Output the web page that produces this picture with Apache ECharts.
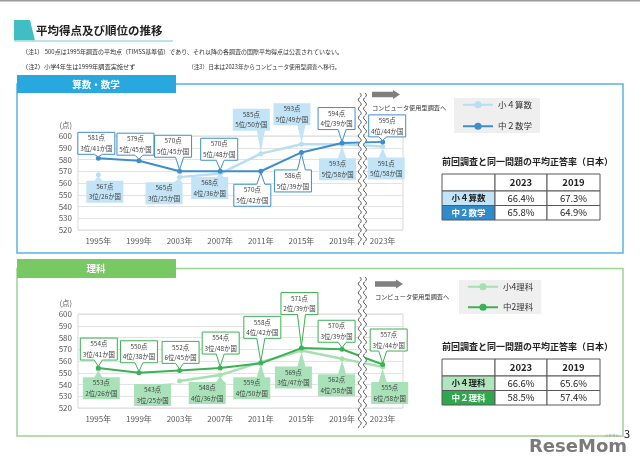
<!DOCTYPE html>
<html><head><meta charset="utf-8">
<script src="https://cdn.jsdelivr.net/npm/echarts@6/dist/echarts.min.js"></script>
<style>html,body{margin:0;padding:0;background:#fff}#c{width:640px;height:472px}</style>
</head><body><div id="c"></div>
<script>
// ---------- DATA ----------
const categories = ['1995年','1999年','2003年','2007年','2011年','2015年','2019年','2023年'];
const yMin = 520, yMax = 600, yStep = 10;

const mathG4Name = '小４算数';
const mathG8Name = '中２数学';
const mathG4 = [567, null, 565, 568, 585, 593, 593, 591];
const mathG4Rank = ['3位/26か国', null, '3位/25か国', '4位/36か国', '5位/50か国', '5位/49か国', '5位/58か国', '5位/58か国'];
const mathG8 = [581, 579, 570, 570, 570, 586, 594, 595];
const mathG8Rank = ['3位/41か国', '5位/45か国', '5位/45か国', '5位/48か国', '5位/42か国', '5位/39か国', '4位/39か国', '4位/44か国'];

const sciG4Name = '小4理科';
const sciG8Name = '中2理科';
const sciG4 = [553, null, 543, 548, 559, 569, 562, 555];
const sciG4Rank = ['2位/26か国', null, '3位/25か国', '4位/36か国', '4位/50か国', '3位/47か国', '4位/58か国', '6位/58か国'];
const sciG8 = [554, 550, 552, 554, 558, 571, 570, 557];
const sciG8Rank = ['3位/41か国', '4位/38か国', '6位/45か国', '3位/48か国', '4位/42か国', '2位/39か国', '3位/39か国', '3位/44か国'];

const rateTitle = '前回調査と同一問題の平均正答率（日本）';
const rateYears = ['2023', '2019'];
const mathRateRows = ['小４算数', '中２数学'];
const mathRate2023 = ['66.4%', '65.8%'];
const mathRate2019 = ['67.3%', '64.9%'];
const sciRateRows = ['小４理科', '中２理科'];
const sciRate2023 = ['66.6%', '58.5%'];
const sciRate2019 = ['65.6%', '57.4%'];

// ---------- LAYOUT (positions only) ----------
const FONT = '"Noto Sans CJK JP","Noto Sans",sans-serif';
const GL = 78, GR = 403, GH = 94, G1T = 136, G2T = 314;
// callout box centre offsets from the point (px)
const mathG8Off = [[-2,-15],[-3.5,-16.5],[-6.5,-25],[-1,-22],[-8.5,24],[-8.5,28.5],[-5.5,-24.5],[4.5,-16]];
const mathG4Off = [[6.5,17],null,[-15.5,16],[-10.5,14.5],[-9.5,-34],[-9.5,-30],[-4.5,25],[3.5,22]];
const sciG8Off  = [[0.5,-19],[0,-21],[1,-18],[0.5,-25],[1.5,-36],[-2,-44.5],[-5.5,-18],[6,-24.5]];
const sciG4Off  = [[3,19],null,[-27,14],[-13,18],[-9,26],[-8,27],[-5.5,26.5],[7,26]];

const C = {
  mathDark:'#3f8ecb', mathLight:'#b8def2', mathBox:'#c2e4f6',
  sciDark:'#3cb054', sciLight:'#a6dfb2', sciBox:'#a9e2b9'
};

function callout(ranks, offsets, st) {
  return function (params, api) {
    const i = api.value(0), v = api.value(1);
    const p = api.coord([i, v]);
    const off = offsets[i];
    const w = 37, h = 22;
    const cx = p[0] + off[0], cy = p[1] + off[1];
    const L = cx - w / 2, R = cx + w / 2, T = cy - h / 2, B = cy + h / 2;
    const bx = Math.max(L + 5, Math.min(R - 5, p[0]));
    let pts;
    if (off[1] < 0) pts = [[L,T],[R,T],[R,B],[bx+4,B],[p[0],p[1]-1.5],[bx-4,B],[L,B]];
    else pts = [[L,T],[bx-4,T],[p[0],p[1]+1.5],[bx+4,T],[R,T],[R,B],[L,B]];
    return { type:'group', children:[
      { type:'polygon', shape:{points:pts}, style:{fill:st.fill, stroke:st.stroke, lineWidth:st.lw} },
      { type:'text', x:cx, y:cy, style:{ text: v + '点\n' + ranks[i], align:'center', verticalAlign:'middle',
        textAlign:'center', textVerticalAlign:'middle', font:'6.4px ' + FONT, lineHeight:10.5, fill:'#404040' } }
    ]};
  };
}
function pts(arr){ return arr.map((v,i)=> v==null ? null : [i, v]).filter(Boolean); }

function lineSeries(name, data, color, width, xi, z){
  return { type:'line', name, data, xAxisIndex:xi, yAxisIndex:xi, connectNulls:false,
    symbol:'circle', symbolSize:5, z, lineStyle:{color, width}, itemStyle:{color}, emphasis:{disabled:true} };
}
function calloutSeries(vals, ranks, offs, st, xi, z){
  return { type:'custom', coordinateSystem:'cartesian2d', xAxisIndex:xi, yAxisIndex:xi, z,
    data: pts(vals), renderItem: callout(ranks, offs, st), silent:true };
}

// ---------- GRAPHICS ----------
const g = [];
function txt(x, y, text, font, fill, align, vAlign, z){
  g.push({ type:'text', x, y, z: z||1, style:{ text, font, fill: fill||'#333', align: align||'left', textAlign: align||'left',
    verticalAlign: vAlign||'middle', textVerticalAlign: vAlign||'middle' } });
}
g.push({ type:'rect', z:1, shape:{x:0,y:0,width:640,height:1.5}, style:{fill:'#9a9a9a'} });
g.push({ type:'polygon', z:1, shape:{points:[[14,20],[30,20],[35,40.5],[14,40.5]]}, style:{fill:'#3fbfc4'} });
g.push({ type:'line', z:1, shape:{x1:14,y1:41,x2:173,y2:41}, style:{stroke:'#a9dbe6', lineWidth:1.5} });
txt(36, 31, '平均得点及び順位の推移', 'bold 11.5px ' + FONT, '#222');
txt(22, 52, '（注1） 500点は1995年調査の平均点（TIMSS基準値）であり、それ以降の各調査の国際平均得点は公表されていない。', '6px ' + FONT, '#333');
txt(22, 67, '（注2）小学4年生は1999年調査実施せず', '6.2px ' + FONT, '#333');
txt(188, 67, '（注3）日本は2023年からコンピュータ使用型調査へ移行。', '5.7px ' + FONT, '#333');

function panel(top, bottom, tabTop, color, tabColor, title){
  g.push({ type:'rect', z:1, shape:{x:17, y:top, width:606, height:bottom-top}, style:{fill:null, stroke:color, lineWidth:1.5} });
  g.push({ type:'rect', z:1, shape:{x:17, y:tabTop, width:159, height:(top-tabTop)*2}, style:{fill:tabColor} });
  txt(96, top, title, 'bold 9.5px ' + FONT, '#fff', 'center');
}
panel(84, 253, 75, '#5ab4de', '#29a8e0', '算数・数学');
panel(268.5, 436, 259, '#9cd48e', '#78c864', '理科');

txt(72, 125, '(点)', '7.5px ' + FONT, '#595959', 'right');
txt(72, 303, '(点)', '7.5px ' + FONT, '#595959', 'right');

function arrow(x, y, label){
  g.push({ type:'polygon', z:1, shape:{points:[[x,y-2.7],[x+21,y-2.7],[x+21,y-4.5],[x+28,y],[x+21,y+4.5],[x+21,y+2.7],[x,y+2.7]]}, style:{fill:'#7f7f7f'} });
  txt(x, y+13, label, '6.2px ' + FONT, '#333');
}
arrow(372, 94.5, 'コンピュータ使用型調査へ');
arrow(375, 284, 'コンピュータ使用型調査へ');

function wave(x0, y0, y1){ const p=[]; for(let y=y0;y<=y1;y+=1) p.push([x0+1.5*Math.sin((y-y0)/9*2*Math.PI), y]); return p; }
function brk(y0, y1){
  const xc = GL + (GR-GL) * 7/8;
  const a = wave(xc-2.6, y0, y1), b = wave(xc+2.6, y0, y1);
  g.push({ type:'polygon', z:50, shape:{points:a.concat(b.slice().reverse())}, style:{fill:'#fff'} });
  g.push({ type:'polyline', z:51, shape:{points:a}, style:{stroke:'#555', lineWidth:0.9, fill:null} });
  g.push({ type:'polyline', z:51, shape:{points:b}, style:{stroke:'#555', lineWidth:0.9, fill:null} });
}
brk(93, 245);
brk(277, 428);

function table(ys, rows, v23, v19, fills, labelColors){
  const xs = [442, 495, 547, 600];
  txt(442, ys[0]-12, rateTitle, 'bold 9px ' + FONT, '#222');
  for (let r = 0; r < 3; r++) {
    for (let c = 0; c < 3; c++) {
      const fill = (r > 0 && c === 0) ? fills[r-1] : '#fff';
      g.push({ type:'rect', z:1, shape:{x:xs[c], y:ys[r], width:xs[c+1]-xs[c], height:ys[r+1]-ys[r]},
        style:{fill, stroke:'#595959', lineWidth:1} });
    }
  }
  for (let c = 0; c < 2; c++) txt((xs[c+1]+xs[c+2])/2, (ys[0]+ys[1])/2, rateYears[c], 'bold 9.5px ' + FONT, '#222', 'center');
  for (let r = 0; r < 2; r++) {
    const cy = (ys[r+1]+ys[r+2])/2;
    txt((xs[0]+xs[1])/2, cy, rows[r], 'bold 8.5px ' + FONT, labelColors[r], 'center');
    txt((xs[1]+xs[2])/2, cy, v23[r], '9.5px ' + FONT, '#222', 'center');
    txt((xs[2]+xs[3])/2, cy, v19[r], '9.5px ' + FONT, '#222', 'center');
  }
}
table([174, 191, 205.5, 220], mathRateRows, mathRate2023, mathRate2019, ['#c2e4f6', '#2f8ccc'], ['#222', '#fff']);
table([359, 376, 390.5, 405], sciRateRows, sciRate2023, sciRate2019, ['#b0e6bd', '#2da84c'], ['#222', '#fff']);

g.push({ type:'text', z:1, x:627, y:447, style:{ text:'ReseMom', font:'bold 18px "DejaVu Sans"', fill:'#7a7a7a', align:'right', textAlign:'right', verticalAlign:'middle', textVerticalAlign:'middle' } });
txt(624, 434, '3', '11px ' + FONT, '#111');
txt(612, 436, 'リセマム', '3.5px ' + FONT, '#888', 'center');

// ---------- CHART ----------
function xAx(gi){ return { type:'category', gridIndex:gi, data:categories, boundaryGap:true,
  axisLine:{show:false}, axisTick:{show:false},
  axisLabel:{fontSize:8, color:'#595959', margin:7, fontFamily:FONT, interval:0} }; }
function yAx(gi){ return { type:'value', gridIndex:gi, min:yMin, max:yMax, interval:yStep,
  axisLine:{show:false}, axisTick:{show:false},
  axisLabel:{fontSize:8, color:'#595959', margin:6, fontFamily:FONT},
  splitLine:{lineStyle:{color:'#e3e3e3', width:1}} }; }

const chart = echarts.init(document.getElementById('c'), null, {renderer:'canvas'});
chart.setOption({
  animation:false,
  backgroundColor:'#fff',
  grid:[
    { left:GL, width:GR-GL, top:G1T, height:GH, show:true, borderColor:'#d9d9d9', borderWidth:1 },
    { left:GL, width:GR-GL, top:G2T, height:GH, show:true, borderColor:'#d9d9d9', borderWidth:1 }
  ],
  xAxis:[xAx(0), xAx(1)],
  yAxis:[yAx(0), yAx(1)],
  legend:[
    { data:[mathG4Name, mathG8Name], orient:'vertical', left:454, top:98, padding:[2.5,8,2.5,8],
      itemWidth:30, itemHeight:9, itemGap:13, backgroundColor:'#efefef', selectedMode:false,
      textStyle:{fontSize:8.5, color:'#333', fontFamily:FONT} },
    { data:[sciG4Name, sciG8Name], orient:'vertical', left:459, top:280, padding:[2.5,8,2.5,8],
      itemWidth:30, itemHeight:9, itemGap:12, backgroundColor:'#efefef', selectedMode:false,
      textStyle:{fontSize:8.5, color:'#333', fontFamily:FONT} }
  ],
  graphic:{ elements:g },
  series:[
    lineSeries(mathG4Name, mathG4, C.mathLight, 2.5, 0, 2),
    lineSeries(mathG8Name, mathG8, C.mathDark, 2, 0, 3),
    lineSeries(sciG4Name, sciG4, C.sciLight, 2.5, 1, 2),
    lineSeries(sciG8Name, sciG8, C.sciDark, 2, 1, 3),
    calloutSeries(mathG4, mathG4Rank, mathG4Off, {fill:C.mathBox, stroke:null, lw:0}, 0, 5),
    calloutSeries(mathG8, mathG8Rank, mathG8Off, {fill:'#fff', stroke:C.mathDark, lw:1}, 0, 5),
    calloutSeries(sciG4, sciG4Rank, sciG4Off, {fill:C.sciBox, stroke:null, lw:0}, 1, 5),
    calloutSeries(sciG8, sciG8Rank, sciG8Off, {fill:'#fff', stroke:C.sciDark, lw:1}, 1, 5)
  ]
});
</script></body></html>
